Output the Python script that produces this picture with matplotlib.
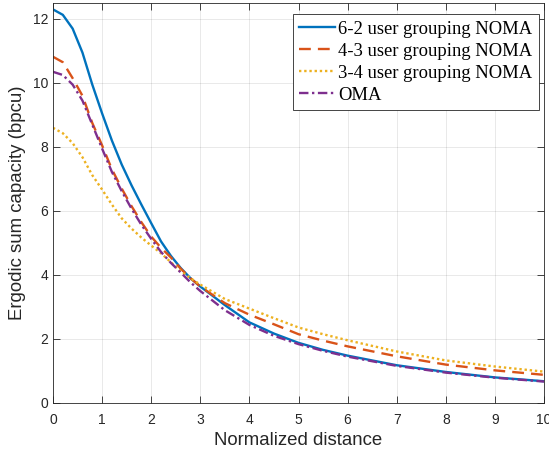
import matplotlib.pyplot as plt
import numpy as np

# normalized distance
x = [0, 0.2, 0.4, 0.6, 0.8, 1.0, 1.2, 1.4, 1.6, 1.8, 2.0, 2.2, 2.4, 2.6, 2.8, 3.0,
     3.5, 4.0, 4.5, 5.0, 5.5, 6.0, 7.0, 8.0, 9.0, 10.0]

# ergodic sum capacity (bpcu)
noma_62 = [12.3, 12.13, 11.7, 10.95, 9.95, 9.05, 8.2, 7.45, 6.8, 6.2, 5.62, 5.05, 4.6,
           4.22, 3.9, 3.64, 3.06, 2.52, 2.17, 1.88, 1.66, 1.48, 1.18, 0.97, 0.80, 0.68]
noma_43 = [10.82, 10.65, 10.15, 9.6, 8.75, 8.05, 7.3, 6.7, 6.15, 5.65, 5.2, 4.85, 4.55,
           4.2, 3.9, 3.64, 3.12, 2.76, 2.46, 2.15, 1.95, 1.77, 1.46, 1.2, 1.02, 0.88]
noma_34 = [8.6, 8.43, 8.12, 7.68, 7.12, 6.67, 6.2, 5.77, 5.45, 5.17, 4.92, 4.68, 4.4,
           4.12, 3.9, 3.7, 3.25, 2.95, 2.65, 2.36, 2.15, 1.96, 1.61, 1.33, 1.14, 0.98]
oma = [10.35, 10.25, 9.95, 9.45, 8.7, 7.95, 7.22, 6.62, 6.07, 5.57, 5.13, 4.72, 4.38,
       4.08, 3.77, 3.5, 2.9, 2.44, 2.1, 1.84, 1.63, 1.45, 1.16, 0.95, 0.79, 0.67]

labels = ['6-2 user grouping NOMA', '4-3 user grouping NOMA',
          '3-4 user grouping NOMA', 'OMA']

plt.rcParams['font.family'] = 'Liberation Sans'

fig = plt.figure(figsize=(5.49, 4.5), dpi=100)
ax = fig.add_axes([53 / 549, 47 / 450, 491 / 549, 400 / 450])

lw = 1.7
ax.plot(x, noma_62, color='#0072BD', lw=lw, ls='-', label=labels[0])
ax.plot(x, noma_43, color='#D95319', lw=lw, ls=(0, (5, 3)), label=labels[1])
ax.plot(x, noma_34, color='#EDB120', lw=lw, ls=(0, (1, 1.2)), label=labels[2])
ax.plot(x, oma, color='#7E2F8E', lw=lw, ls=(0, (4, 1.5, 1, 1.5)), label=labels[3])

ax.set_xlim(0, 10)
ax.set_ylim(0, 12.5)
ax.set_xticks(np.arange(0, 11, 1))
ax.set_yticks(np.arange(0, 13, 2))
ax.grid(True, color='#000000', alpha=0.1, lw=0.6)
ax.tick_params(direction='in', top=True, right=True, labelsize=10,
               colors='#262626', length=5, width=0.6)
ax.tick_params(axis='x', pad=7)
for s in ax.spines.values():
    s.set_color('#262626')
    s.set_linewidth(0.6)

ax.set_xlabel('Normalized distance', fontsize=13.4, color='#262626', labelpad=4)
ax.set_ylabel('Ergodic sum capacity (bpcu)', fontsize=13.4, color='#262626', labelpad=5)

leg = ax.legend(loc='upper right', bbox_to_anchor=(0.9898, 0.9725),
                prop={'family': 'Liberation Serif', 'size': 13.4},
                fancybox=False, framealpha=1, edgecolor='#262626',
                handlelength=1.9, handletextpad=0.2, borderpad=0.35,
                labelspacing=0.27, borderaxespad=0)
leg.get_frame().set_linewidth(0.6)

plt.savefig('out.png', dpi=100)
